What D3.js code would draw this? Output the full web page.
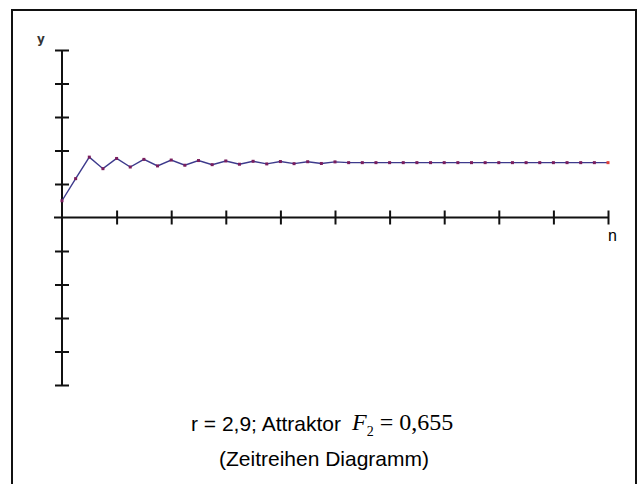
<!DOCTYPE html>
<html>
<head>
<meta charset="utf-8">
<script src="https://cdn.jsdelivr.net/npm/d3@7"></script>
<style>
  body { margin: 0; background: #fff; }
  svg { display: block; }
</style>
</head>
<body>
<div id="chart"></div>
<script>
// time series values (r = 2.9, start 0.2)
const nValues = d3.range(0, 41);
const yValues = [0.200, 0.464, 0.721, 0.583, 0.705, 0.603, 0.694, 0.616, 0.686, 0.624,
                 0.680, 0.631, 0.675, 0.636, 0.671, 0.640, 0.668, 0.643, 0.666, 0.645,
                 0.664, 0.655, 0.655, 0.655, 0.655, 0.655, 0.655, 0.655, 0.655, 0.655,
                 0.655, 0.655, 0.655, 0.655, 0.655, 0.655, 0.655, 0.655, 0.655, 0.655,
                 0.655];
const xTicks = [4, 8, 12, 16, 20, 24, 28, 32, 36, 40];
const yTicks = [-2, -1.6, -1.2, -0.8, -0.4, 0.4, 0.8, 1.2, 1.6, 2];

const width = 638, height = 484;

const svg = d3.select("#chart").append("svg")
    .attr("width", width)
    .attr("height", height);

//frame
svg.append("rect")
    .attr("x", 12).attr("y", 10)
    .attr("width", 624).attr("height", 500)
    .attr("fill", "none")
    .attr("stroke", "#111")
    .attr("stroke-width", 2);

const x = d3.scaleLinear().domain([0, 40]).range([62, 608]);
const y = d3.scaleLinear().domain([-2, 2]).range([385, 50]);

//x axis (ticks cross the line)
const xAxis = svg.append("g")
    .attr("transform", `translate(0,${y(0)})`)
    .call(d3.axisBottom(x).tickValues(xTicks).tickSize(7).tickFormat(""));
xAxis.select(".domain").remove();
xAxis.selectAll(".tick line").attr("y1", -7).attr("y2", 7)
    .attr("stroke", "#111").attr("stroke-width", 2);
xAxis.append("line")
    .attr("x1", x(0) - 8).attr("x2", x(40))
    .attr("stroke", "#111").attr("stroke-width", 2);

//y axis
const yAxis = svg.append("g")
    .attr("transform", `translate(${x(0)},0)`)
    .call(d3.axisLeft(y).tickValues(yTicks).tickSize(7).tickFormat(""));
yAxis.select(".domain").remove();
yAxis.selectAll(".tick line").attr("x1", -7).attr("x2", 7)
    .attr("stroke", "#111").attr("stroke-width", 2);
yAxis.append("line")
    .attr("y1", y(2)).attr("y2", y(-2))
    .attr("stroke", "#111").attr("stroke-width", 2);

//axis names
svg.append("text")
    .attr("x", 37).attr("y", 43)
    .style("font-family", "DejaVu Sans, sans-serif")
    .style("font-size", "12px")
    .style("font-weight", "bold")
    .attr("fill", "#333")
    .text("y");
svg.append("text")
    .attr("x", 608).attr("y", 241)
    .style("font-family", "Liberation Sans, Arial, sans-serif")
    .style("font-size", "16px")
    .text("n");

//series line + points
const pts = nValues.map((n, i) => ({n: n, v: yValues[i]}));
svg.append("path")
    .datum(pts)
    .attr("fill", "none")
    .attr("stroke", "#3d3a8c")
    .attr("stroke-width", 1.4)
    .attr("d", d3.line().x(d => x(d.n)).y(d => y(d.v)));

svg.selectAll("rect.pt")
    .data(pts)
    .enter()
    .append("rect")
        .attr("class", "pt")
        .attr("x", d => x(d.n) - 1.5)
        .attr("y", d => y(d.v) - 1.5)
        .attr("width", 3).attr("height", 3)
        .attr("fill", (d, i) => i === pts.length - 1 ? "#e0403a" : "#7a1e5e");

//caption
svg.append("text")
    .attr("x", 191).attr("y", 431)
    .style("font-family", "Liberation Sans, Arial, sans-serif")
    .style("font-size", "21px")
    .attr("fill", "#000")
    .text("r = 2,9; Attraktor ");

const formula = svg.append("text")
    .attr("x", 352).attr("y", 430)
    .style("font-family", "Liberation Serif, Times New Roman, serif")
    .style("font-size", "24px")
    .attr("fill", "#000");
formula.append("tspan").style("font-style", "italic").text("F");
formula.append("tspan").attr("dy", 6).style("font-size", "14px").text("2");
formula.append("tspan").attr("dy", -6).attr("dx", 6).text("= 0,655");

svg.append("text")
    .attr("x", 324).attr("y", 466)
    .attr("text-anchor", "middle")
    .style("font-family", "Liberation Sans, Arial, sans-serif")
    .style("font-size", "21px")
    .attr("fill", "#000")
    .text("(Zeitreihen Diagramm)");
</script>
</body>
</html>
